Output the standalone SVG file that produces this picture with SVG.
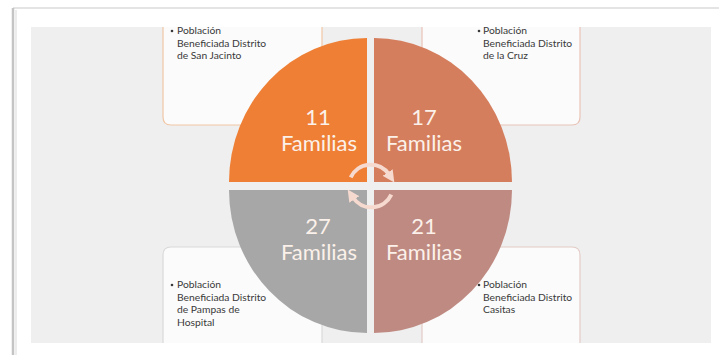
<svg xmlns="http://www.w3.org/2000/svg" width="719" height="355" viewBox="0 0 719 355">
<defs>
<style>
.bg{fill:#efefef}
.box{fill:#fbfbfb;stroke-width:1.2}
.bt{font-family:Lato,"Open Sans","Liberation Sans",sans-serif;font-size:10.3px;fill:#3a3a3a}
.big{font-family:Lato,"Open Sans","Liberation Sans",sans-serif;font-size:22px;fill:#fbf1ea;text-anchor:middle}
.arc{fill:none;stroke:#f6dad0;stroke-width:4}
</style>
<marker id="ah" viewBox="0 0 10 10" refX="2" refY="5" markerWidth="3" markerHeight="3" orient="auto" markerUnits="strokeWidth">
<path d="M0,0 L10,5 L0,10 Z" fill="#f6dad0"/>
</marker>
</defs>
<rect width="719" height="355" fill="#ffffff"/>
<line x1="13" y1="8" x2="719" y2="8" stroke="#e4e4e4" stroke-width="2"/>
<line x1="13" y1="8" x2="13" y2="355" stroke="#c4c4c4" stroke-width="2.5"/>
<line x1="16" y1="10" x2="16" y2="355" stroke="#ececec" stroke-width="2"/>
<rect class="bg" x="31" y="27" width="680" height="316"/>

<g id="box-san-jacinto">
<path class="box" stroke="#f1c7a6" d="M163,27 V117 Q163,125 171,125 H322 V27"/>
<circle cx="172" cy="31" r="1.3" fill="#3a3a3a"/>
<text class="bt" x="177" y="34">Población</text>
<text class="bt" x="177" y="47">Beneficiada Distrito</text>
<text class="bt" x="177" y="59">de San Jacinto</text>
</g>
<g id="box-la-cruz">
<path class="box" stroke="#e8c4b7" d="M422,27 V125 H572 Q580,125 580,117 V27"/>
<circle cx="479" cy="31" r="1.3" fill="#3a3a3a"/>
<text class="bt" x="483" y="34">Población</text>
<text class="bt" x="483" y="47">Beneficiada Distrito</text>
<text class="bt" x="483" y="59">de la Cruz</text>
</g>
<g id="box-pampas">
<path class="box" stroke="#d9d9d9" d="M163,343 V255 Q163,247 171,247 H322 V343"/>
<circle cx="172" cy="285" r="1.3" fill="#3a3a3a"/>
<text class="bt" x="177" y="288">Población</text>
<text class="bt" x="177" y="301">Beneficiada Distrito</text>
<text class="bt" x="177" y="313">de Pampas de</text>
<text class="bt" x="177" y="326">Hospital</text>
</g>
<g id="box-casitas">
<path class="box" stroke="#e3cbc6" d="M422,343 V247 H572 Q580,247 580,255 V343"/>
<circle cx="479" cy="285" r="1.3" fill="#3a3a3a"/>
<text class="bt" x="483" y="288">Población</text>
<text class="bt" x="483" y="301">Beneficiada Distrito</text>
<text class="bt" x="483" y="313">Casitas</text>
</g>

<g id="q-11">
<path fill="#ee7f34" d="M367,182 L229,182 A138,144 0 0 1 367,38 Z"/>
<text class="big" x="318" y="125">11</text>
<text class="big" x="319" y="151">Familias</text>
</g>
<g id="q-17">
<path fill="#d57e5d" d="M374,182 L374,38 A138,144 0 0 1 512,182 Z"/>
<text class="big" x="424" y="125">17</text>
<text class="big" x="424" y="151">Familias</text>
</g>
<g id="q-27">
<path fill="#a7a7a7" d="M367,190 L367,333 A138,143 0 0 1 229,190 Z"/>
<text class="big" x="318" y="234">27</text>
<text class="big" x="319" y="260">Familias</text>
</g>
<g id="q-21">
<path fill="#bf8a82" d="M374,190 L512,190 A138,143 0 0 1 374,333 Z"/>
<text class="big" x="424" y="234">21</text>
<text class="big" x="424" y="260">Familias</text>
</g>

<g id="connectors">
<path class="arc" d="M350.7,177.4 A22,22 0 0 1 389,174.5" marker-end="url(#ah)"/>
<path class="arc" d="M391.3,194.6 A22,22 0 0 1 353,197.5" marker-end="url(#ah)"/>
</g>
</svg>
